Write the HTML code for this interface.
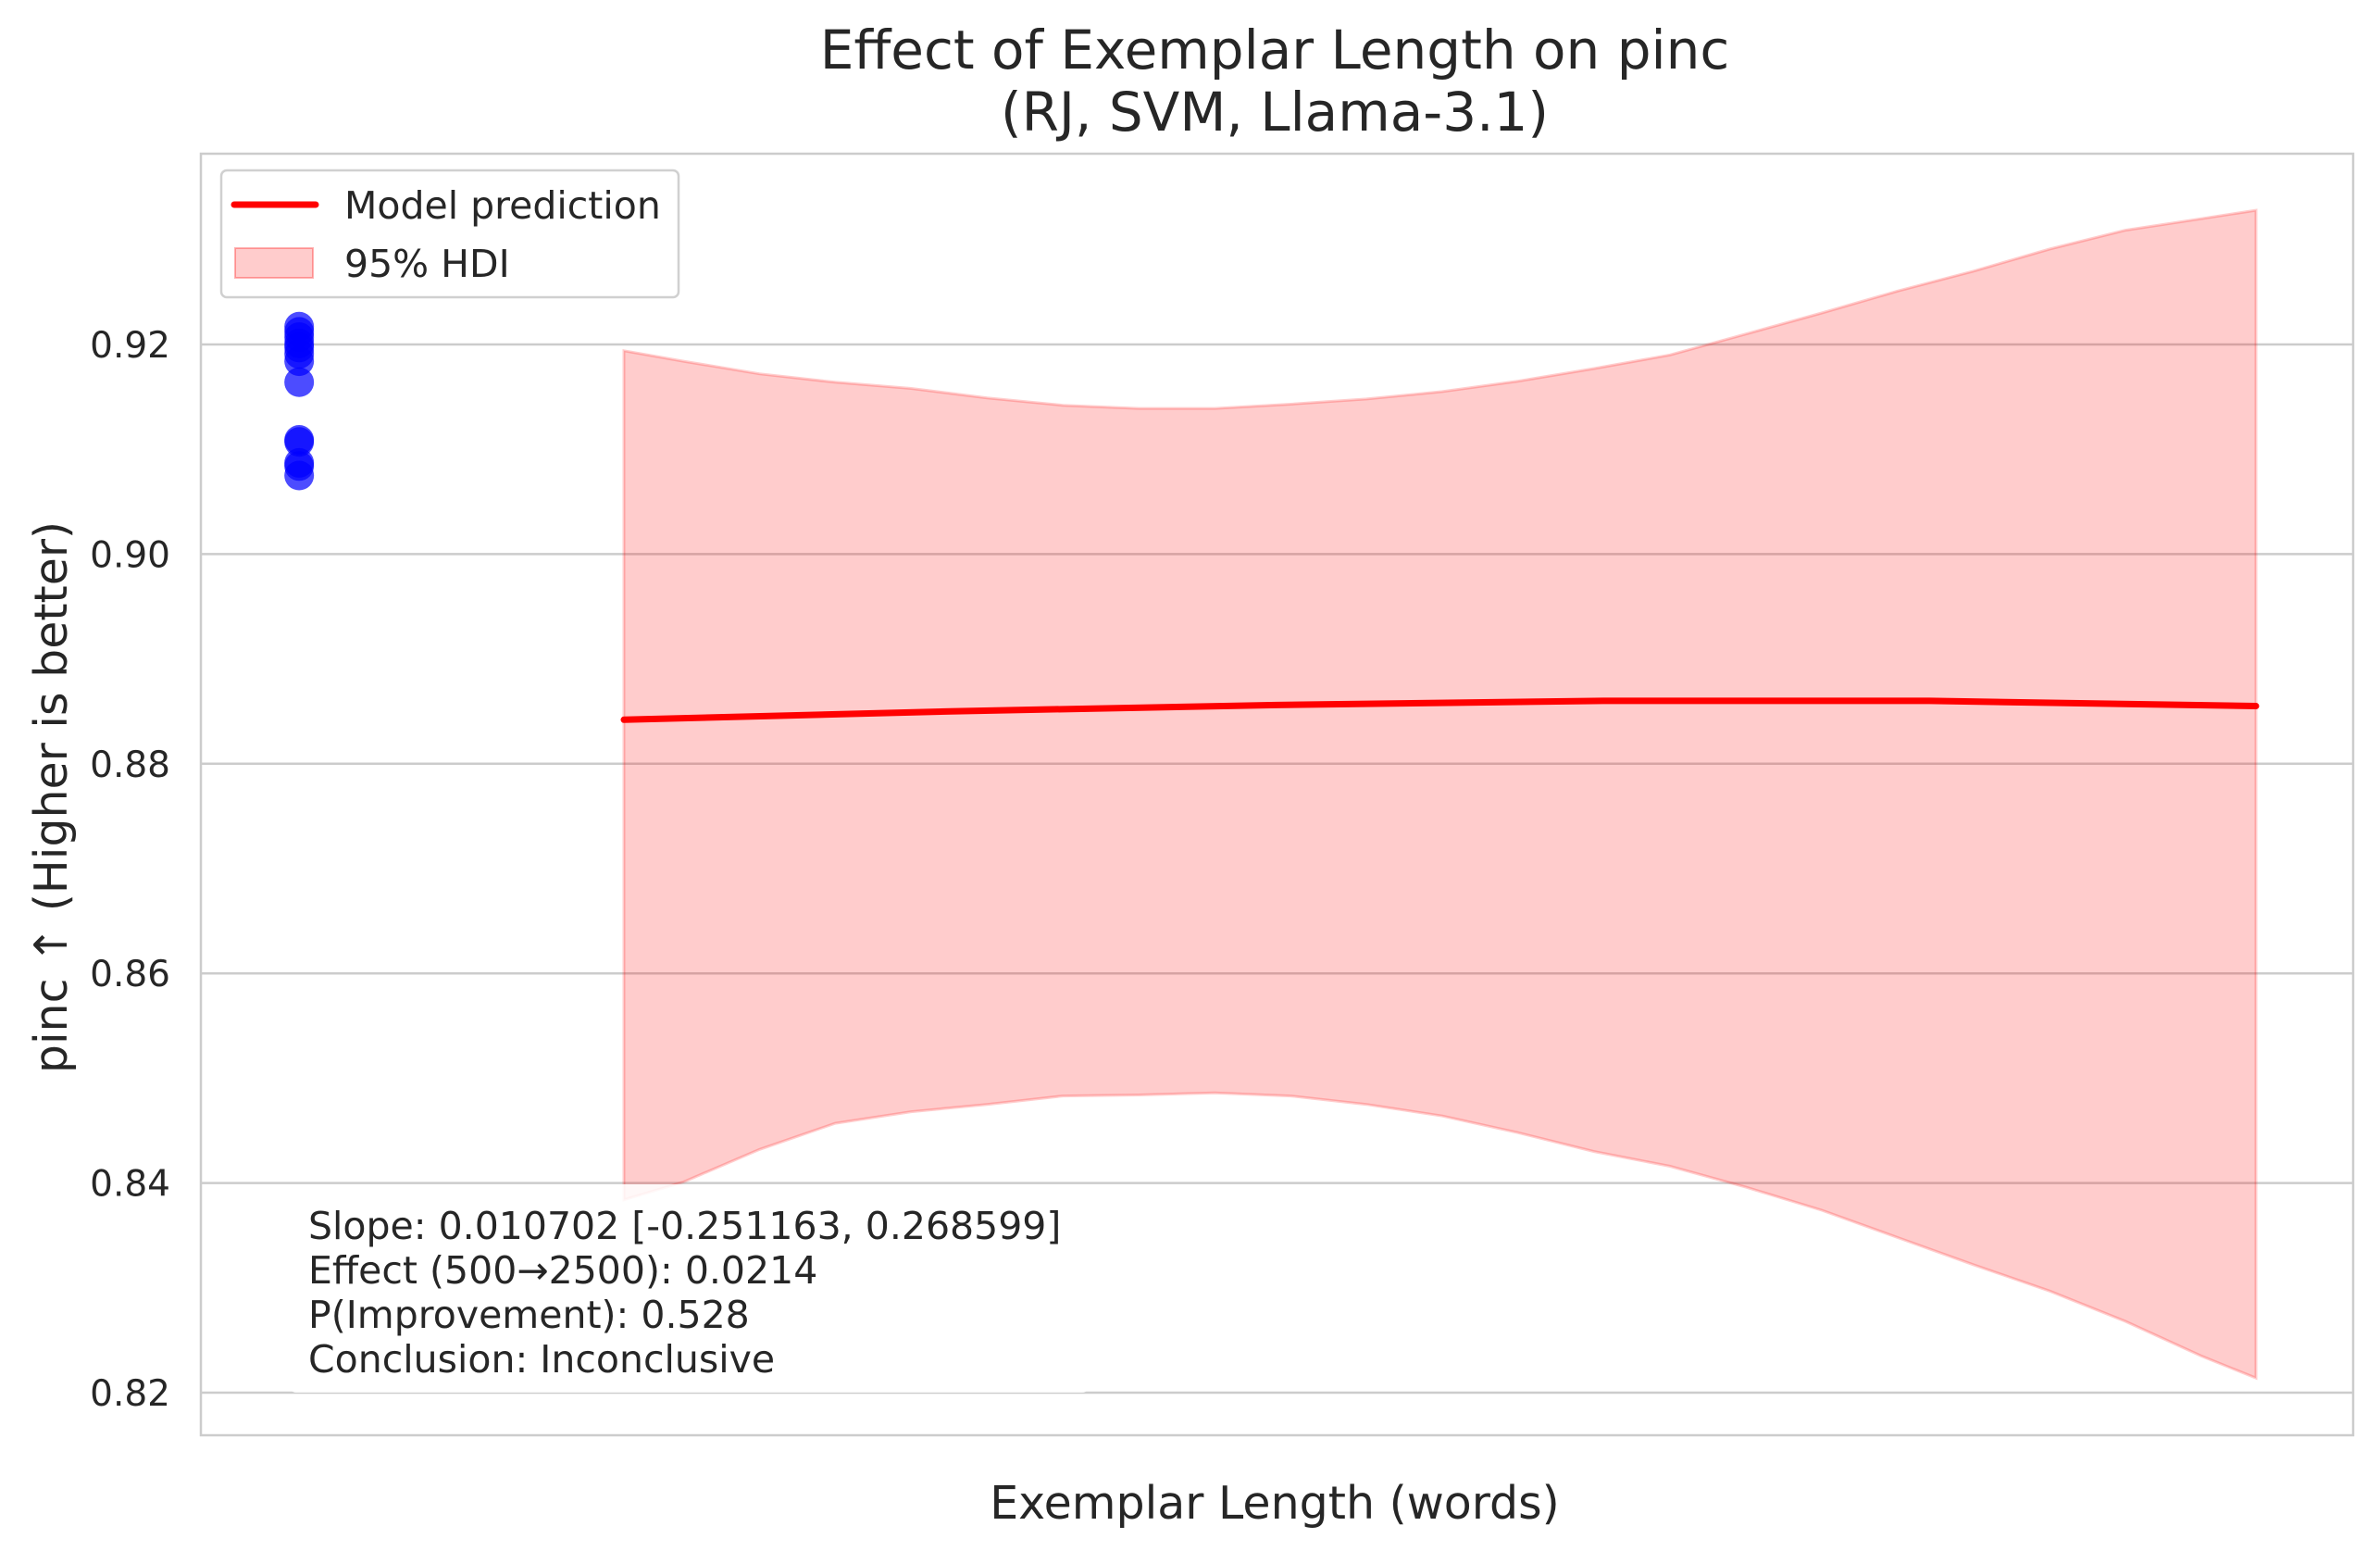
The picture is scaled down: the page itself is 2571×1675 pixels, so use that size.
<!DOCTYPE html>
<html><head><meta charset="utf-8"><style>
html,body{margin:0;padding:0;background:#fff;}
svg{display:block;font-family:"DejaVu Sans","Liberation Sans",sans-serif;}
</style></head><body>
<svg id="chart" width="2571" height="1675" viewBox="0 0 2571 1675" xmlns="http://www.w3.org/2000/svg">
<rect width="2571" height="1675" fill="#fff"/>
<text x="1377" y="74" font-size="58" fill="#262626" text-anchor="middle">Effect of Exemplar Length on pinc</text>
<text x="1377" y="141" font-size="58" fill="#262626" text-anchor="middle">(RJ, SVM, Llama-3.1)</text>
<g id="grid"></g>
<g id="yticks"></g>
<g id="marks"></g>
<rect x="217" y="166" width="2325" height="1384" fill="none" stroke="#cccccc" stroke-width="2.5"/>
<text transform="translate(72,861) rotate(-90)" font-size="49" fill="#262626" text-anchor="middle">pinc ↑ (Higher is better)</text>
<text x="1377" y="1640" font-size="49" fill="#262626" text-anchor="middle">Exemplar Length (words)</text>
<g>
<rect x="239" y="184" width="494" height="137" rx="6" fill="#fff" fill-opacity="0.8" stroke="#d0d0d0" stroke-width="2.5"/>
<line x1="253" y1="221" x2="341" y2="221" stroke="#ff0000" stroke-width="7" stroke-linecap="round"/>
<text x="372" y="236" font-size="41" fill="#262626">Model prediction</text>
<rect x="254" y="268" width="84" height="32" fill="#ff0000" fill-opacity="0.2" stroke="#ff0000" stroke-opacity="0.3" stroke-width="2"/>
<text x="372" y="299" font-size="41" fill="#262626">95% HDI</text>
</g>
<g>
<rect x="312" y="1279" width="865" height="225" rx="8" fill="#fff" fill-opacity="0.85"/>
<text font-size="41" fill="#262626">
<tspan x="333" y="1338">Slope: 0.010702 [-0.251163, 0.268599]</tspan>
<tspan x="333" y="1386">Effect (500→2500): 0.0214</tspan>
<tspan x="333" y="1434">P(Improvement): 0.528</tspan>
<tspan x="333" y="1482">Conclusion: Inconclusive</tspan>
</text>
</g>
</svg>
<script>
const yTicks = [0.82, 0.84, 0.86, 0.88, 0.90, 0.92];
const yTickLabels = ["0.82", "0.84", "0.86", "0.88", "0.90", "0.92"];
const bandX = [500, 573, 666, 759, 852, 945, 1038, 1131, 1224, 1317, 1410, 1503, 1596, 1689, 1782, 1875, 1968, 2061, 2154, 2247, 2340, 2433, 2500];
const bandUpper = [0.9194, 0.9184, 0.9172, 0.9164, 0.9158, 0.9149, 0.9142, 0.9139, 0.9139, 0.9143, 0.9148, 0.9155, 0.9165, 0.9177, 0.9190, 0.9210, 0.9230, 0.9251, 0.9270, 0.9291, 0.9309, 0.9320, 0.9328];
const bandLower = [0.8384, 0.8401, 0.8432, 0.8457, 0.8468, 0.8475, 0.8483, 0.8484, 0.8486, 0.8483, 0.8475, 0.8464, 0.8448, 0.8430, 0.8416, 0.8396, 0.8374, 0.8348, 0.8322, 0.8297, 0.8268, 0.8235, 0.8214];
const lineX = [500, 900, 1300, 1700, 2100, 2500];
const lineY = [0.8842, 0.8850, 0.8856, 0.8860, 0.8860, 0.8855];
const pointX = [102, 102, 102, 102, 102, 102, 102, 102, 102, 102, 102, 102, 102];
const pointY = [0.9217, 0.9212, 0.9207, 0.9201, 0.9197, 0.9191, 0.9184, 0.9164, 0.9109, 0.9107, 0.9087, 0.9084, 0.9075];

const NS = "http://www.w3.org/2000/svg";
function xs(v){ return 674 + (v - 500) * (2437 - 674) / 2000; }
function ys(v){ return 372 + (0.92 - v) * (1504 - 372) / 0.1; }
function mk(tag, attrs){ const e = document.createElementNS(NS, tag); for (const k in attrs) e.setAttribute(k, attrs[k]); return e; }

const grid = document.getElementById('grid');
const yt = document.getElementById('yticks');
yTicks.forEach((t, i) => {
  const l = mk('line', {x1: 217, x2: 2542, y1: ys(t), y2: ys(t), stroke: '#cccccc', 'stroke-width': 2.5});
  
  
  grid.appendChild(l);
  const tx = mk('text', {x: 184, y: ys(t) + 14, 'font-size': 39, fill: '#262626', 'text-anchor': 'end'});
  tx.textContent = yTickLabels[i];
  
  
  yt.appendChild(tx);
});

const marks = document.getElementById('marks');
let d = '';
bandX.forEach((x, i) => { d += (i ? 'L' : 'M') + xs(x).toFixed(1) + ',' + ys(bandUpper[i]).toFixed(1); });
for (let i = bandX.length - 1; i >= 0; i--) d += 'L' + xs(bandX[i]).toFixed(1) + ',' + ys(bandLower[i]).toFixed(1);
d += 'Z';
const band = mk('path', {d: d, fill: '#ff0000', 'fill-opacity': 0.2, stroke: '#ff0000', 'stroke-opacity': 0.2, 'stroke-width': 3});


marks.appendChild(band);

let ld = '';
lineX.forEach((x, i) => { ld += (i ? 'L' : 'M') + xs(x).toFixed(1) + ',' + ys(lineY[i]).toFixed(1); });
const line = mk('path', {d: ld, fill: 'none', stroke: '#ff0000', 'stroke-width': 7, 'stroke-linecap': 'round'});


marks.appendChild(line);

pointX.forEach((x, i) => {
  const c = mk('ellipse', {cx: xs(x), cy: ys(pointY[i]), rx: 16, ry: 16, fill: '#0000ff', 'fill-opacity': 0.7});
  
  
  marks.appendChild(c);
});
</script>
</body></html>
